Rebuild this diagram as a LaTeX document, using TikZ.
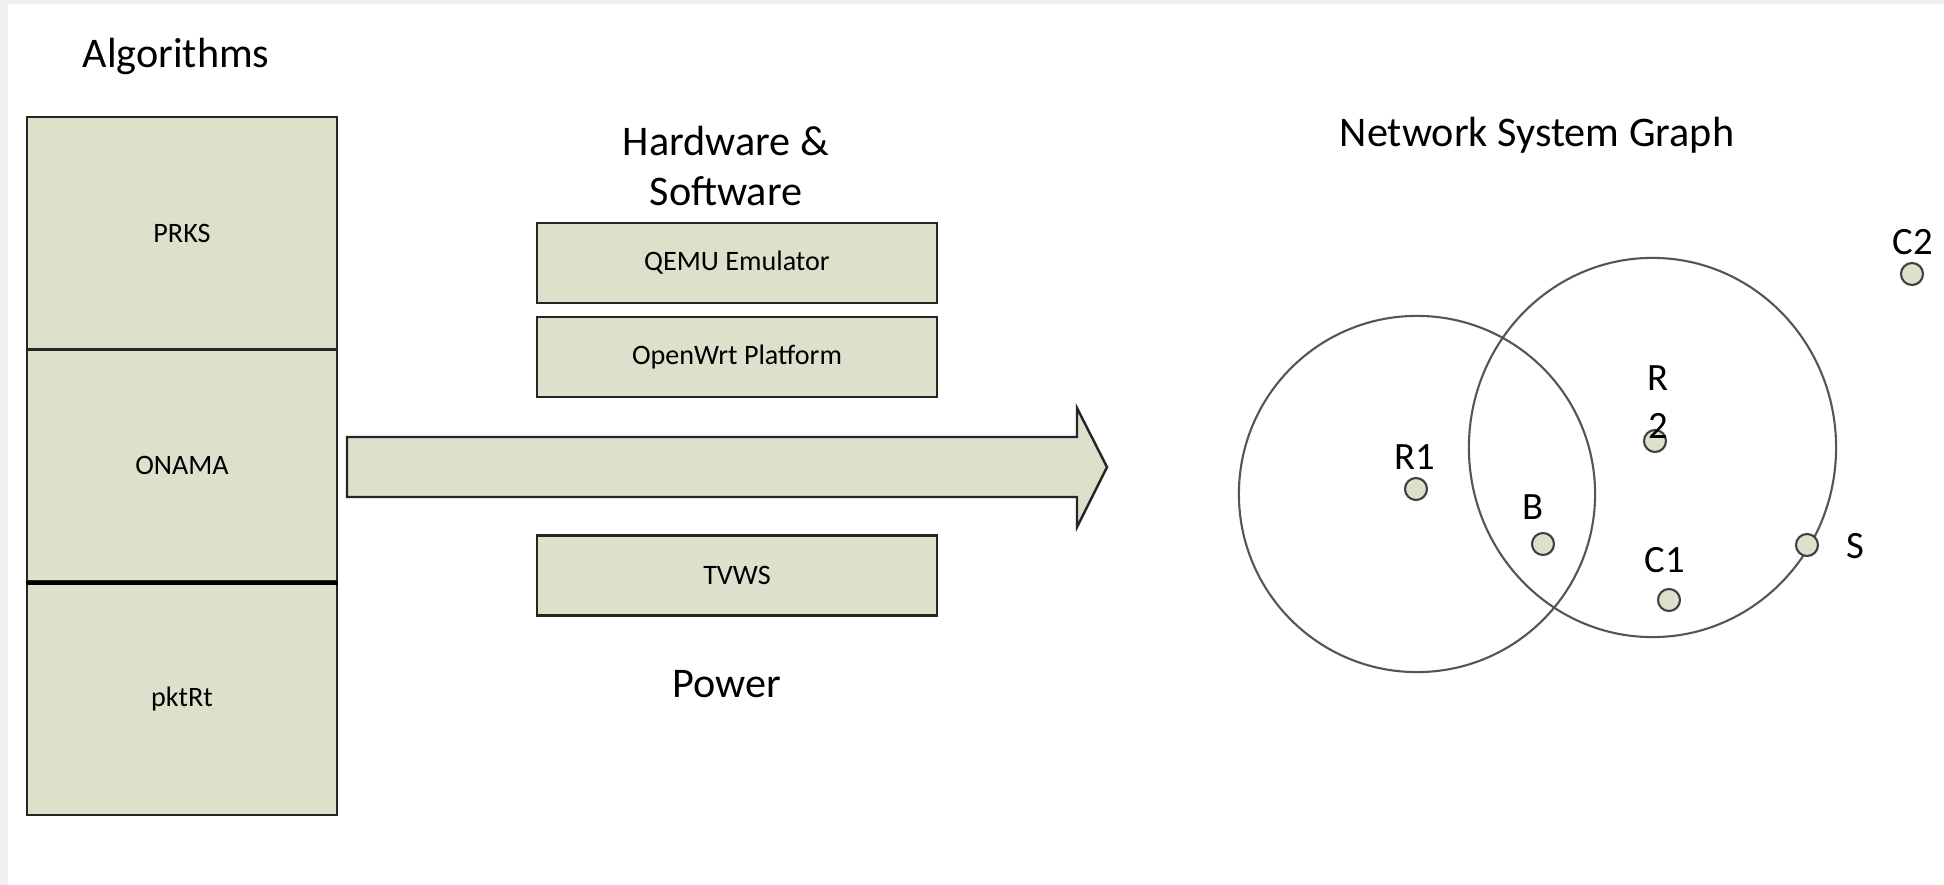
\documentclass[tikz,border=0pt]{standalone}
\usepackage{fontspec}
\setmainfont{Carlito}
\definecolor{boxfill}{HTML}{DDE0CB}
\definecolor{frame}{HTML}{F0F0EE}
\definecolor{ring}{HTML}{555555}

\begin{document}
\begin{tikzpicture}[x=0.01cm, y=-0.01cm,
  layer/.style={draw=black!85, line width=0.7pt, fill=boxfill, minimum width=3.1cm, minimum height=2.32cm, font=\fontsize{8}{10}\selectfont},
  hwbox/.style={draw=black!85, line width=0.7pt, fill=boxfill, minimum width=4cm, minimum height=0.8cm, font=\fontsize{8}{10}\selectfont},
  title/.style={font=\fontsize{12}{14.2}\selectfont, align=center},
  dot/.style={circle, draw=black!75, fill=boxfill, line width=0.6pt, minimum size=0.22cm, inner sep=0pt},
  tag/.style={font=\fontsize{11}{13.7}\selectfont, align=center},
  cover/.style={draw=ring, line width=0.6pt}]
\useasboundingbox (0,0) rectangle (1944,885);
\fill[frame] (0,0) rectangle (1944,885);
\fill[white] (8,4) rectangle (1944,885);

% algorithms
\node[title, anchor=base] (algtitle) at (176,68) {Algorithms};
\node[layer] (prks) at (182,233) {PRKS};
\node[layer] (onama) at (182,465.5) {ONAMA};
\node[layer] (pktrt) at (182,699) {pktRt};
\draw[line width=1.3pt] (onama.south west) -- (onama.south east);

% hardware and software
\node[title] (hwtitle) at (726,166) {Hardware \&\\Software};
\node[hwbox] (qemu) at (737,263) {QEMU Emulator};
\node[hwbox] (openwrt) at (737,357) {OpenWrt Platform};
\node[hwbox] (tvws) at (737,575.5) {TVWS};
\node[title, anchor=base] (power) at (727,698) {Power};

% big arrow
\draw[draw=black!85, line width=0.7pt, fill=boxfill]
  (347,437) -- (1077,437) -- (1077,408) -- (1107,467) -- (1077,527) -- (1077,497) -- (347,497) -- cycle;

% network system graph
\node[title, anchor=base] (nettitle) at (1537,147) {Network System Graph};
\draw[cover] (1417,494) circle[radius=1.78cm];
\draw[cover] (1652.5,447.5) ellipse[x radius=1.835cm, y radius=1.895cm];

\node[dot] (r1) at (1416,489) {};
\node[dot] (b) at (1543,544) {};
\node[dot] (r2) at (1655,441) {};
\node[dot] (c1) at (1669,600) {};
\node[dot] (s) at (1807,545) {};
\node[dot] (c2) at (1912,274) {};
\node[tag, anchor=base] at (1415,470) {R1};
\node[tag, anchor=base] at (1533,519) {B};
\node[tag] at (1658,402) {R\\2};
\node[tag, anchor=base] at (1665,573) {C1};
\node[tag, anchor=base] at (1855,558) {S};
\node[tag, anchor=base] at (1913,255) {C2};
\end{tikzpicture}
\end{document}
